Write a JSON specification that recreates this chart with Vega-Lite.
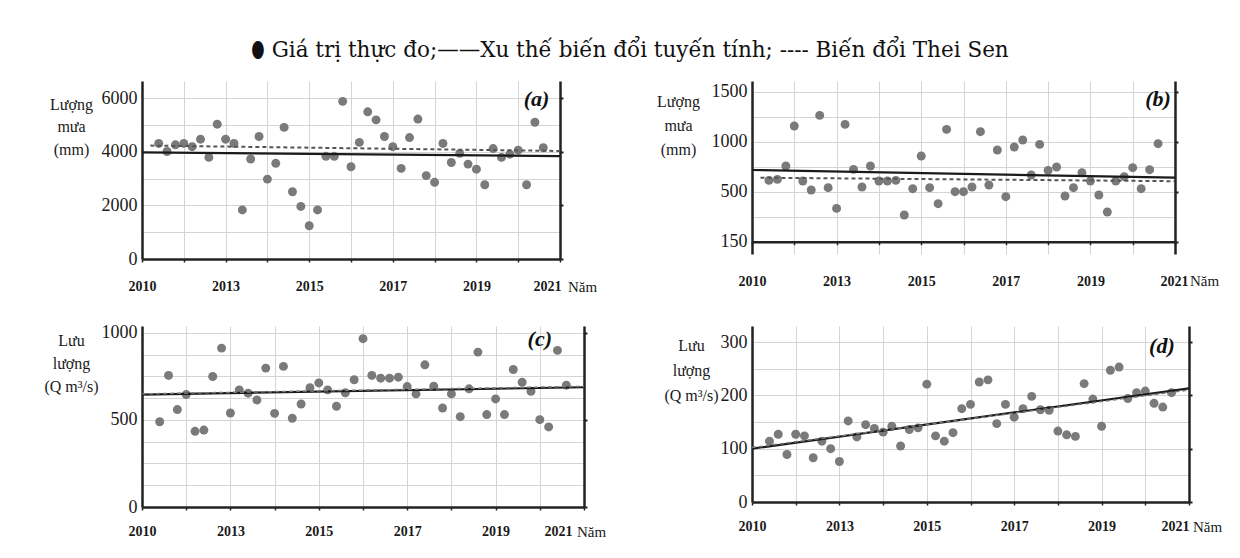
{
 "$schema": "https://vega.github.io/schema/vega-lite/v6.json",
 "background": "white",
 "padding": {"left": 43, "top": 39, "right": 5, "bottom": 5},
 "title": {"text": "⬮ Giá trị thực đo;——Xu thế biến đổi tuyến tính; ----  Biến đổi Thei Sen", "font": "DejaVu Serif", "fontSize": 21.5, "fontWeight": "normal", "color": "#111", "anchor": "middle", "offset": 20, "dx": -3},
 "config": {
  "view": {"stroke": null},
  "font": "Liberation Serif",
  "axis": {"labelFont": "Liberation Serif", "titleFont": "Liberation Serif", "titleFontWeight": "normal", "gridColor": "#d4d4d4", "gridWidth": 1, "domainColor": "#222", "tickColor": "#222", "labelColor": "#1a1a1a", "titleColor": "#1a1a1a", "labelOverlap": false}
 },
 "datasets": {
  "obs": [
   {"t":2,"a":4310,"b":613,"c":490,"d":114},
   {"t":3,"a":4010,"b":623,"c":756,"d":127},
   {"t":4,"a":4260,"b":757,"c":560,"d":89},
   {"t":5,"a":4310,"b":1157,"c":646,"d":127},
   {"t":6,"a":4190,"b":607,"c":435,"d":124},
   {"t":7,"a":4470,"b":517,"c":442,"d":83},
   {"t":8,"a":3790,"b":1263,"c":750,"d":114},
   {"t":9,"a":5030,"b":540,"c":913,"d":100},
   {"t":10,"a":4470,"b":333,"c":540,"d":76},
   {"t":11,"a":4310,"b":1173,"c":673,"d":152},
   {"t":12,"a":1830,"b":723,"c":654,"d":122},
   {"t":13,"a":3730,"b":547,"c":615,"d":145},
   {"t":14,"a":4570,"b":757,"c":798,"d":138},
   {"t":15,"a":2980,"b":607,"c":538,"d":131},
   {"t":16,"a":3570,"b":607,"c":808,"d":142},
   {"t":17,"a":4910,"b":613,"c":510,"d":105},
   {"t":18,"a":2510,"b":267,"c":592,"d":136},
   {"t":19,"a":1960,"b":530,"c":685,"d":139},
   {"t":20,"a":1240,"b":857,"c":713,"d":221},
   {"t":21,"a":1830,"b":540,"c":673,"d":124},
   {"t":22,"a":3830,"b":380,"c":579,"d":114},
   {"t":23,"a":3830,"b":1123,"c":656,"d":130},
   {"t":24,"a":5880,"b":500,"c":731,"d":175},
   {"t":25,"a":3440,"b":500,"c":967,"d":183},
   {"t":26,"a":4350,"b":547,"c":756,"d":225},
   {"t":27,"a":5490,"b":1100,"c":740,"d":229},
   {"t":28,"a":5190,"b":567,"c":740,"d":147},
   {"t":29,"a":4570,"b":917,"c":746,"d":183},
   {"t":30,"a":4190,"b":450,"c":692,"d":159},
   {"t":31,"a":3380,"b":947,"c":650,"d":175},
   {"t":32,"a":4530,"b":1017,"c":817,"d":198},
   {"t":33,"a":5220,"b":667,"c":694,"d":173},
   {"t":34,"a":3110,"b":973,"c":569,"d":172},
   {"t":35,"a":2860,"b":713,"c":650,"d":133},
   {"t":36,"a":4310,"b":747,"c":519,"d":126},
   {"t":37,"a":3600,"b":457,"c":679,"d":123},
   {"t":38,"a":3940,"b":540,"c":890,"d":222},
   {"t":39,"a":3540,"b":690,"c":531,"d":193},
   {"t":40,"a":3350,"b":607,"c":621,"d":142},
   {"t":41,"a":2770,"b":467,"c":531,"d":247},
   {"t":42,"a":4120,"b":297,"c":790,"d":253},
   {"t":43,"a":3790,"b":607,"c":717,"d":194},
   {"t":44,"a":3910,"b":650,"c":665,"d":205},
   {"t":45,"a":4060,"b":740,"c":502,"d":208},
   {"t":46,"a":2770,"b":530,"c":460,"d":185},
   {"t":47,"a":5100,"b":720,"c":900,"d":178},
   {"t":48,"a":4150,"b":980,"c":700,"d":205}
  ],
  "trend": [
   {"panel":"a","kind":"linear","t":0,"v":3975},{"panel":"a","kind":"linear","t":50,"v":3840},
   {"panel":"a","kind":"sen","t":1,"v":4230},{"panel":"a","kind":"sen","t":50,"v":4030},
   {"panel":"b","kind":"linear","t":0,"v":717},{"panel":"b","kind":"linear","t":50,"v":640},
   {"panel":"b","kind":"sen","t":1,"v":640},{"panel":"b","kind":"sen","t":50,"v":605},
   {"panel":"c","kind":"linear","t":0,"v":646},{"panel":"c","kind":"linear","t":50,"v":688},
   {"panel":"c","kind":"sen","t":0,"v":650},{"panel":"c","kind":"sen","t":50,"v":693},
   {"panel":"d","kind":"linear","t":0,"v":100},{"panel":"d","kind":"linear","t":50,"v":213},
   {"panel":"d","kind":"sen","t":0,"v":102},{"panel":"d","kind":"sen","t":50,"v":210}
  ]
 },
 "columns": 2,
 "bounds": "flush",
 "spacing": {"row": 67, "column": 168},
 "concat": [
   {"width": 418, "height": 178, "resolve": {"axis": {"y": "independent"}},
    "layer": [
     {"data": {"name": "obs"},
      "mark": {"type": "circle", "size": 80, "color": "#7a7a7a", "opacity": 1},
      "encoding": {
       "x": {"field": "t", "type": "quantitative", "scale": {"domain": [0, 50], "nice": false, "zero": false},
        "axis": {"values": [0,1.25,2.5,3.75,5,6.25,7.5,8.75,10,11.25,12.5,13.75,15,16.25,17.5,18.75,20,21.25,22.5,23.75,25,26.25,27.5,28.75,30,31.25,32.5,33.75,35,36.25,37.5,38.75,40,41.25,42.5,43.75,45,46.25,47.5,48.75,50], "title": "Năm", "titleX": 440, "titleY": 27, "titleAlign": "center", "titleBaseline": "middle", "titleFontSize": 15, "labelExpr": "datum.value == 0 ? '2010' : datum.value == 10 ? '2013' : datum.value == 20 ? '2015' : datum.value == 30 ? '2017' : datum.value == 40 ? '2019' : datum.value == 50 ? '2021' : ''", "labelFontSize": 14, "labelFontWeight": "bold", "labelPadding": 17, "labelFlush": false, "labelAlign": "center", "labelOffset": {"condition": {"test": "datum.value == 50", "value": -13}, "value": 0}, "grid": true, "ticks": true, "tickSize": {"condition": {"test": "datum.value % 2.5 == 0", "value": 3}, "value": 0}, "tickWidth": 1.5, "domainWidth": 2.5}},
       "y": {"field": "a", "type": "quantitative", "scale": {"domain": [0, 6640], "nice": false, "zero": false},
        "axis": {"values": [0,1000,2000,3000,4000,5000,6000], "format": "d", "labelExpr": "datum.value % 2000 == 0 ? datum.label : ''", "labelFontSize": 18, "labelPadding": 5, "ticks": false, "grid": true, "domainWidth": 2.5, "title": ["Lượng", "mưa", "(mm)"], "titleAngle": 0, "titleAlign": "center", "titleBaseline": "top", "titleX": -71, "titleY": 15, "titleFontSize": 16, "titleLineHeight": 22.5}}
      }},
     {"data": {"name": "trend"}, "transform": [{"filter": "datum.panel == 'a' && datum.kind == 'linear'"}],
      "mark": {"type": "line", "color": "#1a1a1a", "strokeWidth": 2.2},
      "encoding": {"x": {"field": "t", "type": "quantitative"},
       "y": {"field": "v", "type": "quantitative", "axis": {"orient": "right", "values": [0,2000,4000,6000], "labels": false, "grid": false, "title": null, "ticks": true, "tickSize": 3, "tickWidth": 2, "domainWidth": 2.5}}}},
     {"data": {"name": "trend"}, "transform": [{"filter": "datum.panel == 'a' && datum.kind == 'sen'"}],
      "mark": {"type": "line", "color": "#555", "strokeWidth": 2, "strokeDash": [4, 3]},
      "encoding": {"x": {"field": "t", "type": "quantitative"}, "y": {"field": "v", "type": "quantitative", "axis": null}}},
     {"data": {"values": [{"lab": "(a)"}]},
      "mark": {"type": "text", "fontSize": 22, "fontWeight": "bold", "fontStyle": "italic", "color": "#111"},
      "encoding": {"text": {"field": "lab"}, "x": {"datum": 47.2}, "y": {"datum": 5960, "axis": null}}}
    ]},
   {"width": 423, "height": 173, "resolve": {"axis": {"y": "independent"}},
    "layer": [
     {"data": {"name": "obs"},
      "mark": {"type": "circle", "size": 80, "color": "#7a7a7a", "opacity": 1},
      "encoding": {
       "x": {"field": "t", "type": "quantitative", "scale": {"domain": [0, 50], "nice": false, "zero": false},
        "axis": {"values": [0,1.25,2.5,3.75,5,6.25,7.5,8.75,10,11.25,12.5,13.75,15,16.25,17.5,18.75,20,21.25,22.5,23.75,25,26.25,27.5,28.75,30,31.25,32.5,33.75,35,36.25,37.5,38.75,40,41.25,42.5,43.75,45,46.25,47.5,48.75,50], "offset": -12.3, "title": "Năm", "titleX": 452, "titleY": 39, "titleAlign": "center", "titleBaseline": "middle", "titleFontSize": 15, "labelExpr": "datum.value == 0 ? '2010' : datum.value == 10 ? '2013' : datum.value == 20 ? '2015' : datum.value == 30 ? '2017' : datum.value == 40 ? '2019' : datum.value == 50 ? '2021' : ''", "labelFontSize": 14, "labelFontWeight": "bold", "labelPadding": 30, "labelFlush": false, "labelAlign": "center", "labelOffset": {"condition": {"test": "datum.value == 50", "value": -1}, "value": 0}, "grid": true, "ticks": true, "tickSize": {"condition": {"test": "datum.value % 2.5 == 0", "value": 3}, "value": 0}, "tickWidth": 1.5, "domainWidth": 2.5}},
       "y": {"field": "b", "type": "quantitative", "scale": {"domain": [-123, 1607], "nice": false, "zero": false},
        "axis": {"values": [0,250,500,750,1000,1250,1500], "format": "d", "labelExpr": "datum.value == 0 ? '150' : (datum.value % 500 == 0 ? datum.label : '')", "labelFontSize": 18, "labelPadding": 5, "ticks": false, "grid": true, "domainWidth": 2.5, "title": ["Lượng", "mưa", "(mm)"], "titleAngle": 0, "titleAlign": "center", "titleBaseline": "top", "titleX": -74, "titleY": 12, "titleFontSize": 16, "titleLineHeight": 24}}
      }},
     {"data": {"name": "trend"}, "transform": [{"filter": "datum.panel == 'b' && datum.kind == 'linear'"}],
      "mark": {"type": "line", "color": "#1a1a1a", "strokeWidth": 2.2},
      "encoding": {"x": {"field": "t", "type": "quantitative"},
       "y": {"field": "v", "type": "quantitative", "axis": {"orient": "right", "values": [0,500,1000,1500], "labels": false, "grid": false, "title": null, "ticks": true, "tickSize": 3, "tickWidth": 2, "domainWidth": 2.5}}}},
     {"data": {"name": "trend"}, "transform": [{"filter": "datum.panel == 'b' && datum.kind == 'sen'"}],
      "mark": {"type": "line", "color": "#555", "strokeWidth": 2, "strokeDash": [4, 3]},
      "encoding": {"x": {"field": "t", "type": "quantitative"}, "y": {"field": "v", "type": "quantitative", "axis": null}}},
     {"data": {"values": [{"lab": "(b)"}]},
      "mark": {"type": "text", "fontSize": 22, "fontWeight": "bold", "fontStyle": "italic", "color": "#111"},
      "encoding": {"text": {"field": "lab"}, "x": {"datum": 48}, "y": {"datum": 1427, "axis": null}}}
    ]},
   {"width": 442, "height": 181, "resolve": {"axis": {"y": "independent"}},
    "layer": [
     {"data": {"name": "obs"},
      "mark": {"type": "circle", "size": 80, "color": "#7a7a7a", "opacity": 1},
      "encoding": {
       "x": {"field": "t", "type": "quantitative", "scale": {"domain": [0, 50], "nice": false, "zero": false},
        "axis": {"values": [0,1.25,2.5,3.75,5,6.25,7.5,8.75,10,11.25,12.5,13.75,15,16.25,17.5,18.75,20,21.25,22.5,23.75,25,26.25,27.5,28.75,30,31.25,32.5,33.75,35,36.25,37.5,38.75,40,41.25,42.5,43.75,45,46.25,47.5,48.75,50], "title": "Năm", "titleX": 449, "titleY": 24, "titleAlign": "center", "titleBaseline": "middle", "titleFontSize": 15, "labelExpr": "datum.value == 0 ? '2010' : datum.value == 10 ? '2013' : datum.value == 20 ? '2015' : datum.value == 30 ? '2017' : datum.value == 40 ? '2019' : datum.value == 50 ? '2021' : ''", "labelFontSize": 14, "labelFontWeight": "bold", "labelPadding": 14, "labelFlush": false, "labelAlign": "center", "labelOffset": {"condition": {"test": "datum.value == 50", "value": -26}, "value": 0}, "grid": true, "ticks": true, "tickSize": {"condition": {"test": "datum.value % 2.5 == 0", "value": 3}, "value": 0}, "tickWidth": 1.5, "domainWidth": 2.5}},
       "y": {"field": "c", "type": "quantitative", "scale": {"domain": [0, 1040], "nice": false, "zero": false},
        "axis": {"values": [0,125,250,375,500,625,750,875,1000], "format": "d", "labelExpr": "datum.value % 500 == 0 ? datum.label : ''", "labelFontSize": 18, "labelPadding": 5, "ticks": false, "grid": true, "domainWidth": 2.5, "title": ["Lưu", "lượng", "(Q m³/s)"], "titleAngle": 0, "titleAlign": "center", "titleBaseline": "top", "titleX": -71, "titleY": 6, "titleFontSize": 16, "titleLineHeight": 23}}
      }},
     {"data": {"name": "trend"}, "transform": [{"filter": "datum.panel == 'c' && datum.kind == 'linear'"}],
      "mark": {"type": "line", "color": "#1a1a1a", "strokeWidth": 2.2},
      "encoding": {"x": {"field": "t", "type": "quantitative"},
       "y": {"field": "v", "type": "quantitative", "axis": {"orient": "right", "values": [0,500,1000], "labels": false, "grid": false, "title": null, "ticks": true, "tickSize": 3, "tickWidth": 2, "domainWidth": 2.5}}}},
     {"data": {"name": "trend"}, "transform": [{"filter": "datum.panel == 'c' && datum.kind == 'sen'"}],
      "mark": {"type": "line", "color": "#777", "strokeWidth": 1.5, "strokeDash": [4, 3]},
      "encoding": {"x": {"field": "t", "type": "quantitative"}, "y": {"field": "v", "type": "quantitative", "axis": null}}},
     {"data": {"values": [{"lab": "(c)"}]},
      "mark": {"type": "text", "fontSize": 22, "fontWeight": "bold", "fontStyle": "italic", "color": "#111"},
      "encoding": {"text": {"field": "lab"}, "x": {"datum": 45}, "y": {"datum": 966, "axis": null}}}
    ]},
   {"width": 437, "height": 176, "resolve": {"axis": {"y": "independent"}},
    "layer": [
     {"data": {"name": "obs"},
      "mark": {"type": "circle", "size": 80, "color": "#7a7a7a", "opacity": 1},
      "encoding": {
       "x": {"field": "t", "type": "quantitative", "scale": {"domain": [0, 50], "nice": false, "zero": false},
        "axis": {"values": [0,1.25,2.5,3.75,5,6.25,7.5,8.75,10,11.25,12.5,13.75,15,16.25,17.5,18.75,20,21.25,22.5,23.75,25,26.25,27.5,28.75,30,31.25,32.5,33.75,35,36.25,37.5,38.75,40,41.25,42.5,43.75,45,46.25,47.5,48.75,50], "title": "Năm", "titleX": 455, "titleY": 24, "titleAlign": "center", "titleBaseline": "middle", "titleFontSize": 15, "labelExpr": "datum.value == 0 ? '2010' : datum.value == 10 ? '2013' : datum.value == 20 ? '2015' : datum.value == 30 ? '2017' : datum.value == 40 ? '2019' : datum.value == 50 ? '2021' : ''", "labelFontSize": 14, "labelFontWeight": "bold", "labelPadding": 14, "labelFlush": false, "labelAlign": "center", "labelOffset": {"condition": {"test": "datum.value == 50", "value": -14}, "value": 0}, "grid": true, "ticks": true, "tickSize": {"condition": {"test": "datum.value % 2.5 == 0", "value": 3}, "value": 0}, "tickWidth": 1.5, "domainWidth": 2.5}},
       "y": {"field": "d", "type": "quantitative", "scale": {"domain": [0, 330], "nice": false, "zero": false},
        "axis": {"values": [0,50,100,150,200,250,300], "format": "d", "labelExpr": "datum.value % 100 == 0 ? datum.label : ''", "labelFontSize": 18, "labelPadding": 5, "ticks": false, "grid": true, "domainWidth": 2.5, "title": ["Lưu", "lượng", "(Q m³/s)"], "titleAngle": 0, "titleAlign": "center", "titleBaseline": "top", "titleX": -61, "titleY": 11, "titleFontSize": 16, "titleLineHeight": 25}}
      }},
     {"data": {"name": "trend"}, "transform": [{"filter": "datum.panel == 'd' && datum.kind == 'linear'"}],
      "mark": {"type": "line", "color": "#1a1a1a", "strokeWidth": 2.2},
      "encoding": {"x": {"field": "t", "type": "quantitative"},
       "y": {"field": "v", "type": "quantitative", "axis": {"orient": "right", "values": [0,100,200,300], "labels": false, "grid": false, "title": null, "ticks": true, "tickSize": 3, "tickWidth": 2, "domainWidth": 2.5}}}},
     {"data": {"name": "trend"}, "transform": [{"filter": "datum.panel == 'd' && datum.kind == 'sen'"}],
      "mark": {"type": "line", "color": "#777", "strokeWidth": 1.5, "strokeDash": [4, 3]},
      "encoding": {"x": {"field": "t", "type": "quantitative"}, "y": {"field": "v", "type": "quantitative", "axis": null}}},
     {"data": {"values": [{"lab": "(d)"}]},
      "mark": {"type": "text", "fontSize": 22, "fontWeight": "bold", "fontStyle": "italic", "color": "#111"},
      "encoding": {"text": {"field": "lab"}, "x": {"datum": 46.9}, "y": {"datum": 293, "axis": null}}}
    ]}
 ]
}
